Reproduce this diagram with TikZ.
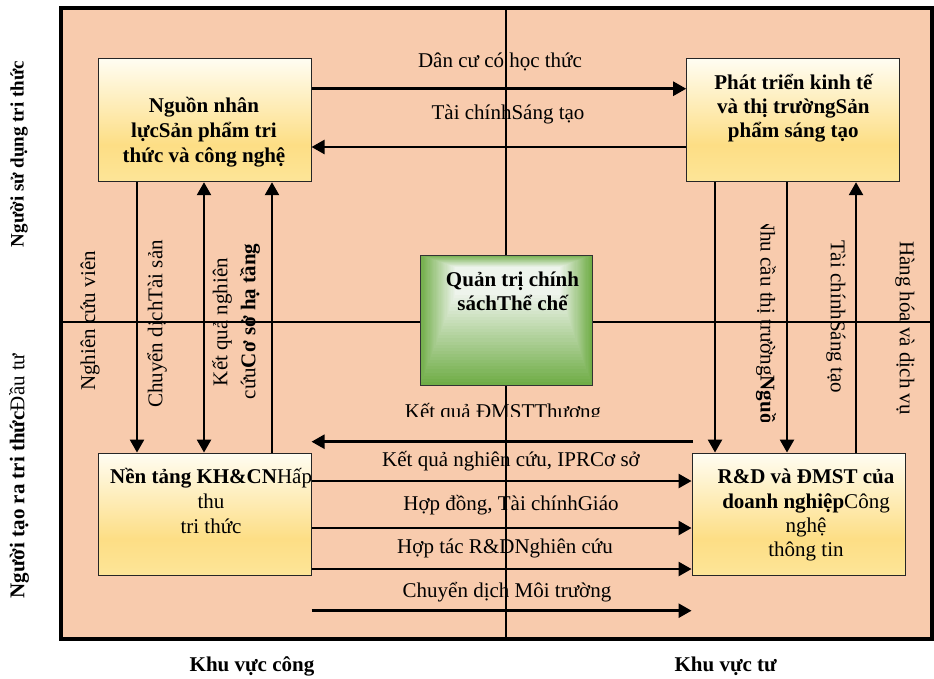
\documentclass[tikz,border=0pt]{standalone}
\usepackage{fontspec}
\setmainfont{Liberation Serif}
\usetikzlibrary{arrows.meta,calc}
\definecolor{peach}{RGB}{248,203,173}
\definecolor{ytop}{RGB}{255,253,242}
\definecolor{ymid}{RGB}{253,222,133}
\definecolor{ybot}{RGB}{253,229,152}
\definecolor{gin}{RGB}{238,244,236}
\definecolor{gout}{RGB}{112,173,71}
\pgfdeclareverticalshading{ygrad}{100bp}{color(0bp)=(ybot); color(25bp)=(ybot); color(40bp)=(ymid); color(75bp)=(ytop); color(100bp)=(ytop)}
\begin{document}
\begin{tikzpicture}[x=1pt,y=-1pt,
  every node/.style={inner sep=0pt, font=\fontsize{21}{25}\selectfont},
  bold/.style={font=\fontsize{21}{25}\selectfont\bfseries},
  ybox/.style={draw=black!85, line width=1pt, shading=ygrad},
  arr/.style={line width=2.5pt, -{Triangle[length=13pt,width=14pt]}},
  arrtwo/.style={line width=2.5pt, {Triangle[length=13pt,width=14pt]}-{Triangle[length=13pt,width=14pt]}},
  cross/.style={line width=1.5pt}]
\useasboundingbox (0,0) rectangle (934,678);
% frame
\fill[peach] (60.7,7.7) rectangle (932,638.7);
\draw[cross] (506,7.7) -- (506,638.7);
\draw[cross] (60.7,322) -- (932,322);
\draw[line width=4pt] (60.7,7.7) rectangle (932,638.7);
% lanes
\coordinate (v1) at (137,0);
\coordinate (v2) at (204,0);
\coordinate (v3) at (272,0);
\coordinate (v4) at (715,0);
\coordinate (v5) at (787,0);
\coordinate (v6) at (856,0);
\coordinate (h1) at (0,88.7);
\coordinate (h2) at (0,147);
\coordinate (h3) at (0,441.7);
\coordinate (h4) at (0,481);
\coordinate (h5) at (0,528);
\coordinate (h6) at (0,569);
\coordinate (h7) at (0,610.7);
\coordinate (e3) at (693,441.7);
% boxes
\node[ybox, minimum width=212.3pt, minimum height=123pt] (tl) at (204.9,120.2) {};
\node[ybox, minimum width=212.6pt, minimum height=123pt] (tr) at (793,120.2) {};
\node[ybox, minimum width=212.3pt, minimum height=122.7pt] (bl) at (204.9,514.4) {};
\node[ybox, minimum width=213.7pt, minimum height=122.7pt] (br) at (798.9,514.4) {};
% green box gradient
\foreach \i in {0,...,29}{
  \pgfmathsetmacro{\t}{\i/29}
  \pgfmathsetmacro{\xa}{420+\t*(455-420)}
  \pgfmathsetmacro{\ya}{255+\t*(267-255)}
  \pgfmathsetmacro{\xb}{592-\t*(592-560)}
  \pgfmathsetmacro{\yb}{385-\t*(385-295)}
  \pgfmathsetmacro{\p}{100*\t}
  \fill[gin!\p!gout] (\xa,\ya) rectangle (\xb,\yb);
}
\node[draw=black!80, line width=1pt, minimum width=172pt, minimum height=130pt] (gov) at (506,320) {};
% arrows
\draw[arr] (tl.east |- h1) -- (tr.west |- h1);
\draw[arr] (tr.west |- h2) -- (tl.east |- h2);
\draw[arr] (v1 |- tl.south) -- (v1 |- bl.north);
\draw[arrtwo] (v2 |- tl.south) -- (v2 |- bl.north);
\draw[arr] (v3 |- bl.north) -- (v3 |- tl.south);
\draw[arr] (v4 |- tr.south) -- (v4 |- br.north);
\draw[arr] (v5 |- tr.south) -- (v5 |- br.north);
\draw[arr] (v6 |- br.north) -- (v6 |- tr.south);
\draw[arr] (e3) -- (bl.east |- h3);
\draw[arr] (bl.east |- h4) -- (br.west |- h4);
\draw[arr] (bl.east |- h5) -- (br.west |- h5);
\draw[arr] (bl.east |- h6) -- (br.west |- h6);
\draw[arr] (bl.east |- h7) -- (br.west |- h7);
% horizontal labels
\node[anchor=base] (l1) at (500,67.5) {Dân cư có học thức};
\node[anchor=base] (l2) at (508,119.3) {Tài chínhSáng tạo};
\begin{scope}
\clip (380,395) rectangle (640,416.5);
\node[anchor=base] (l3) at (503,418) {Kết quả ĐMSTThương};
\end{scope}
\node[anchor=base] (l4) at (511,466.7) {Kết quả nghiên cứu, IPRCơ sở};
\node[anchor=base] (l5) at (511,510) {Hợp đồng, Tài chínhGiáo};
\begin{scope}
\clip (380,530) rectangle (612,615);
\node[anchor=base] (l6) at (505,553.3) {Hợp tác R\&DNghiên cứu};
\node[anchor=base] (l7) at (507,597) {Chuyển dịch Môi trường};
\end{scope}
% box texts
\node[bold, anchor=base] (t1a) at (204,112.7) {Nguồn nhân};
\node[bold, anchor=base] (t1b) at (204,137.7) {lựcSản phẩm tri};
\node[bold, anchor=base] (t1c) at (204,162.7) {thức và công nghệ};
\node[bold, anchor=base] (t2a) at (793.3,89.3) {Phát triển kinh tế};
\node[bold, anchor=base] (t2b) at (793.3,113.3) {và thị trườngSản};
\node[bold, anchor=base] (t2c) at (793.3,137.7) {phẩm sáng tạo};
\node[bold, anchor=base] (t3a) at (512.5,286.7) {Quản trị chính};
\node[bold, anchor=base] (t3b) at (512.5,310.7) {sáchThể chế};
\begin{scope}
\clip (98.7,453) rectangle (311,575.7);
\node[anchor=base west] (t4a) at (110,483.3) {\textbf{Nền tảng KH\&CN}Hấp};
\end{scope}
\node[anchor=base] (t4b) at (211,508.3) {thu};
\node[anchor=base] (t4c) at (211,533.3) {tri thức};
\node[anchor=base] (t5a) at (806,483.3) {\textbf{R\&D và ĐMST của}};
\node[anchor=base] (t5b) at (806,508.3) {\textbf{doanh nghiệp}Công};
\node[anchor=base] (t5c) at (806,532) {nghệ};
\node[anchor=base] (t5d) at (806,556.7) {thông tin};
% vertical labels
\node[rotate=90] (vl1) at (90,321) {Nghiên cứu viên};
\node[rotate=90] (vl2) at (157,324) {Chuyển dịchTài sản};
\node[rotate=90] (vl3) at (222,322) {Kết quả nghiên};
\node[rotate=90] (vl4) at (250,321.5) {cứu\textbf{Cơ sở hạ tầng}};
\begin{scope}
\clip (750,224) rectangle (785,421);
\node[rotate=-90, anchor=west] (vl5) at (766,216) {Nhu cầu thị trường\textbf{Nguồ}};
\end{scope}
\node[rotate=-90] (vl6) at (836,316.5) {Tài chínhSáng tạo};
\node[rotate=-90] (vl7) at (905,328) {Hàng hóa và dịch vụ};
% outer labels
\node[rotate=90, font=\fontsize{19}{23}\selectfont\bfseries] (o1) at (19,154) {Người sử dụng tri thức};
\node[rotate=90] (o2) at (19,476) {\textbf{Người tạo ra tri thức}Đầu tư};
\node[bold, anchor=base] (o3) at (252,671.7) {Khu vực công};
\node[bold, anchor=base] (o4) at (725.7,671.7) {Khu vực tư};
\end{tikzpicture}
\end{document}
